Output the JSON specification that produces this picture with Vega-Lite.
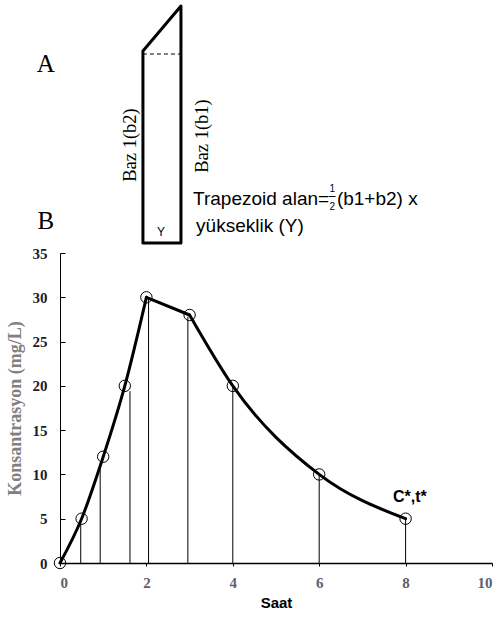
{
  "$schema": "https://vega.github.io/schema/vega-lite/v6.json",
  "background": "white",
  "padding": {"left": 6, "top": 4, "right": 5, "bottom": 5},
  "spacing": 7,
  "bounds": "flush",
  "config": {"view": {"stroke": null}},
  "vconcat": [
    {
      "width": 432,
      "height": 240,
      "layer": [
        {
          "data": {"values": [
            {"i": 1, "x": 1.92, "y": 195},
            {"i": 2, "x": 1.92, "y": 3},
            {"i": 3, "x": 2.8, "y": 3},
            {"i": 4, "x": 2.8, "y": 240},
            {"i": 5, "x": 1.92, "y": 195}
          ]},
          "mark": {"type": "line", "color": "black", "strokeWidth": 3, "strokeJoin": "round", "strokeCap": "round", "clip": false},
          "encoding": {
            "x": {"field": "x", "type": "quantitative", "scale": {"domain": [0, 10]}, "axis": null},
            "y": {"field": "y", "type": "quantitative", "scale": {"domain": [0, 240]}, "axis": null},
            "order": {"field": "i"}
          }
        },
        {
          "data": {"values": [{"x": 1.92, "y": 192}, {"x": 2.8, "y": 192}]},
          "mark": {"type": "line", "color": "black", "strokeWidth": 1, "strokeDash": [4, 3]},
          "encoding": {
            "x": {"field": "x", "type": "quantitative"},
            "y": {"field": "y", "type": "quantitative"}
          }
        },
        {
          "data": {"values": [{"x": -0.33, "y": 182, "t": "A"}, {"x": -0.33, "y": 25, "t": "B"}]},
          "mark": {"type": "text", "font": "Liberation Serif", "fontSize": 25, "color": "black", "baseline": "middle", "align": "center"},
          "encoding": {
            "x": {"field": "x", "type": "quantitative"},
            "y": {"field": "y", "type": "quantitative"},
            "text": {"field": "t"}
          }
        },
        {
          "data": {"values": [{"x": 1.62, "y": 101, "t": "Baz 1(b2)"}, {"x": 3.29, "y": 110, "t": "Baz 1(b1)"}]},
          "mark": {"type": "text", "font": "Liberation Serif", "fontSize": 18.5, "color": "black", "baseline": "middle", "align": "center", "angle": 270},
          "encoding": {
            "x": {"field": "x", "type": "quantitative"},
            "y": {"field": "y", "type": "quantitative"},
            "text": {"field": "t"}
          }
        },
        {
          "data": {"values": [
            {"x": 3.08, "y": 47, "t": "Trapezoid alan="},
            {"x": 6.41, "y": 47, "t": "(b1+b2) x"},
            {"x": 3.15, "y": 20, "t": "yükseklik (Y)"}
          ]},
          "mark": {"type": "text", "font": "Liberation Sans", "fontSize": 19, "color": "black", "baseline": "middle", "align": "left"},
          "encoding": {
            "x": {"field": "x", "type": "quantitative"},
            "y": {"field": "y", "type": "quantitative"},
            "text": {"field": "t"}
          }
        },
        {
          "data": {"values": [{"x": 6.3, "y": 57, "t": "1"}, {"x": 6.3, "y": 39, "t": "2"}]},
          "mark": {"type": "text", "font": "Liberation Sans", "fontSize": 10, "color": "black", "baseline": "middle", "align": "center"},
          "encoding": {
            "x": {"field": "x", "type": "quantitative"},
            "y": {"field": "y", "type": "quantitative"},
            "text": {"field": "t"}
          }
        },
        {
          "data": {"values": [{"x": 6.22, "y": 49.5}, {"x": 6.38, "y": 49.5}]},
          "mark": {"type": "line", "color": "black", "strokeWidth": 1},
          "encoding": {
            "x": {"field": "x", "type": "quantitative"},
            "y": {"field": "y", "type": "quantitative"}
          }
        },
        {
          "data": {"values": [{"x": 2.34, "y": 14, "t": "Y"}]},
          "mark": {"type": "text", "font": "Liberation Sans", "fontSize": 12, "color": "black", "baseline": "middle", "align": "center"},
          "encoding": {
            "x": {"field": "x", "type": "quantitative"},
            "y": {"field": "y", "type": "quantitative"},
            "text": {"field": "t"}
          }
        }
      ]
    },
    {
      "width": 432,
      "height": 310,
      "layer": [
        {
          "data": {"values": [
            {"t": 0.48, "c": 5},
            {"t": 0.93, "c": 10.6},
            {"t": 1.62, "c": 19.4},
            {"t": 2.05, "c": 30},
            {"t": 2.96, "c": 27.8},
            {"t": 4.0, "c": 20},
            {"t": 6.0, "c": 10},
            {"t": 8.0, "c": 5}
          ]},
          "mark": {"type": "rule", "color": "black", "strokeWidth": 1},
          "encoding": {
            "x": {"field": "t", "type": "quantitative", "scale": {"domain": [0, 10]},
              "axis": {"values": [0, 2, 4, 6, 8, 10], "grid": false, "domainColor": "black", "domainWidth": 1.5, "tickColor": "black", "tickSize": 3,
                "labelFont": "Liberation Serif", "labelFontWeight": "bold", "labelFontSize": 15, "labelColor": "#5e5e72", "labelPadding": 9,
                "title": "Saat", "titleFont": "Liberation Sans", "titleFontWeight": "bold", "titleFontSize": 15, "titleColor": "black", "titlePadding": 5}},
            "y": {"field": "c", "type": "quantitative", "scale": {"domain": [0, 35]},
              "axis": {"values": [0, 5, 10, 15, 20, 25, 30, 35], "grid": false, "domainColor": "black", "domainWidth": 1, "tickColor": "black", "tickSize": -5,
                "labelFont": "Liberation Serif", "labelFontWeight": "bold", "labelFontSize": 15, "labelColor": "#221c2c", "labelPadding": 18,
                "title": "Konsantrasyon (mg/L)", "titleFont": "Liberation Serif", "titleFontWeight": "bold", "titleFontSize": 18, "titleColor": "#808080", "titlePadding": 8}},
            "y2": {"datum": 0}
          }
        },
        {
          "data": {"values": [
            {"seg": "rise", "t": 0, "c": 0}, {"seg": "rise", "t": 0.5, "c": 5}, {"seg": "rise", "t": 1, "c": 12}, {"seg": "rise", "t": 1.5, "c": 20}, {"seg": "rise", "t": 2, "c": 30},
            {"seg": "fall", "t": 3, "c": 28}, {"seg": "fall", "t": 4, "c": 20}, {"seg": "fall", "t": 6, "c": 10}, {"seg": "fall", "t": 8, "c": 5}
          ]},
          "mark": {"type": "line", "color": "black", "strokeWidth": 3, "interpolate": "monotone", "strokeCap": "round"},
          "encoding": {
            "x": {"field": "t", "type": "quantitative"},
            "y": {"field": "c", "type": "quantitative"},
            "detail": {"field": "seg"}
          }
        },
        {
          "data": {"values": [{"t": 2, "c": 30}, {"t": 3, "c": 28}]},
          "mark": {"type": "line", "color": "black", "strokeWidth": 3, "strokeCap": "round"},
          "encoding": {
            "x": {"field": "t", "type": "quantitative"},
            "y": {"field": "c", "type": "quantitative"}
          }
        },
        {
          "data": {"values": [
            {"t": 0, "c": 0}, {"t": 0.5, "c": 5}, {"t": 1, "c": 12}, {"t": 1.5, "c": 20},
            {"t": 2, "c": 30}, {"t": 3, "c": 28}, {"t": 4, "c": 20}, {"t": 6, "c": 10}, {"t": 8, "c": 5}
          ]},
          "mark": {"type": "point", "shape": "circle", "size": 130, "filled": false, "color": "black", "strokeWidth": 1, "opacity": 1},
          "encoding": {
            "x": {"field": "t", "type": "quantitative"},
            "y": {"field": "c", "type": "quantitative"}
          }
        },
        {
          "data": {"values": [{"t": 8.1, "c": 7.4, "label": "C*,t*"}]},
          "mark": {"type": "text", "font": "Liberation Sans", "fontWeight": "bold", "fontSize": 16, "color": "black", "baseline": "middle", "align": "center"},
          "encoding": {
            "x": {"field": "t", "type": "quantitative"},
            "y": {"field": "c", "type": "quantitative"},
            "text": {"field": "label"}
          }
        }
      ]
    }
  ]
}
